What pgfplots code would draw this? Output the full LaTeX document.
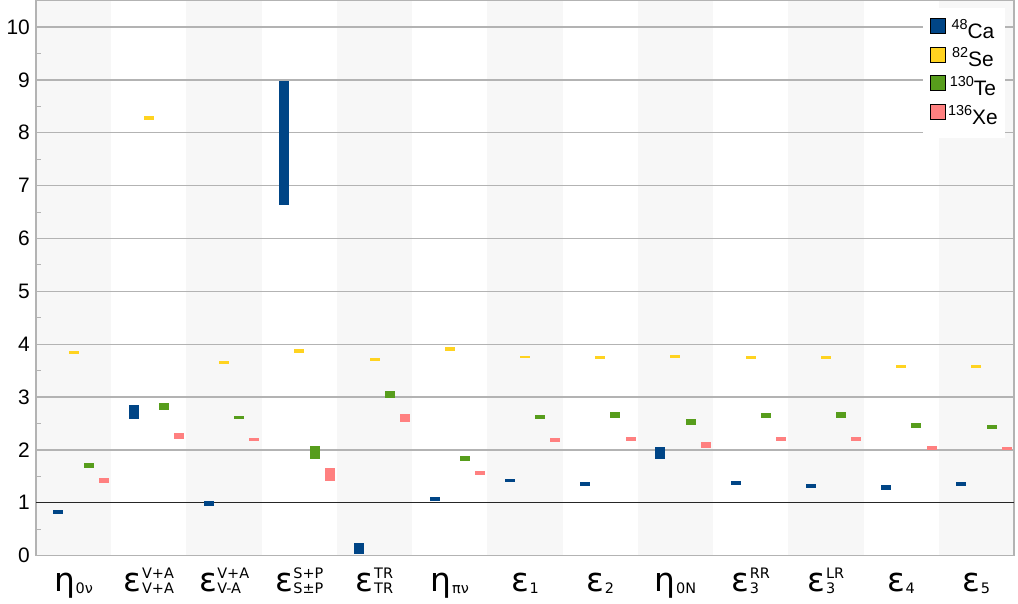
\documentclass[border=0pt]{standalone}
\usepackage{fontspec}
\setmainfont{Liberation Sans}
\newfontfamily\lblfont{DejaVu Sans}
\usepackage{pgfplots}
\pgfplotsset{compat=1.18}
\usepackage{pgfplotstable}

\definecolor{ca}{HTML}{004586}
\definecolor{se}{HTML}{FFD320}
\definecolor{te}{HTML}{579D1C}
\definecolor{xe}{HTML}{FF8080}
\definecolor{band}{HTML}{F7F7F7}
\definecolor{gridgray}{HTML}{B3B3B3}

% ranges (lo, hi) for each parameter, one table per isotope
\pgfplotstableread{
x lo hi
0 0.79 0.86
1 2.59 2.84
2 0.93 1.04
3 6.64 8.98
4 0.03 0.24
5 1.04 1.11
6 1.39 1.45
7 1.31 1.40
8 1.82 2.05
9 1.34 1.41
10 1.27 1.36
11 1.25 1.34
12 1.32 1.39
}\caTable
\pgfplotstableread{
x lo hi
0 3.81 3.87
1 8.25 8.32
2 3.62 3.68
3 3.83 3.91
4 3.68 3.73
5 3.87 3.94
6 3.73 3.78
7 3.72 3.78
8 3.73 3.80
9 3.72 3.78
10 3.71 3.78
11 3.54 3.61
12 3.55 3.61
}\seTable
\pgfplotstableread{
x lo hi
0 1.65 1.75
1 2.76 2.89
2 2.59 2.64
3 1.82 2.07
4 2.98 3.11
5 1.79 1.88
6 2.58 2.66
7 2.61 2.71
8 2.47 2.59
9 2.61 2.70
10 2.61 2.71
11 2.42 2.51
12 2.39 2.47
}\teTable
\pgfplotstableread{
x lo hi
0 1.38 1.47
1 2.20 2.31
2 2.17 2.23
3 1.41 1.65
4 2.52 2.67
5 1.52 1.60
6 2.15 2.23
7 2.17 2.25
8 2.04 2.15
9 2.17 2.25
10 2.16 2.24
11 2.00 2.08
12 1.99 2.06
}\xeTable

% symbol with a stacked superscript and subscript
\newcommand\scr{\fontsize{14.5}{15.5}\selectfont}
\newcommand\supsub[3]{#1\hspace{0.5bp}\raisebox{-2bp}{\scr\begin{tabular}[b]{@{}l@{}}#2\\#3\end{tabular}}}
\newcommand\sub[2]{#1\hspace{0.5bp}\raisebox{-2bp}{\scr #2}}
% isotope mass number
\newcommand\iso[2]{\raisebox{9bp}{\fontsize{14.5}{14.5}\selectfont #1}#2}

\pgfplotsset{
  range/.style={draw=none, mark=none, forget plot,
    error bars/.cd, y dir=both, y explicit, error mark=none,
    error bar style={draw=#1, line width=10bp, line cap=butt}},
}

\begin{document}
\begin{tikzpicture}
\begin{axis}[
  set layers,
  scale only axis,
  width=978bp, height=555bp,
  xmin=-0.5, xmax=12.5,
  ymin=0, ymax=10.5,
  axis line style={gridgray, line width=1.2bp},
  ytick={0,...,10},
  minor y tick num=1,
  ytick pos=left,
  xtick={0,...,12},
  xtick pos=bottom,
  major tick length=0pt,
  minor tick length=5bp,
  every minor tick/.style={gridgray, line width=1bp},
  ymajorgrids,
  grid style={gridgray, line width=1.3bp},
  /pgf/number format/assume math mode=true,
  yticklabel style={font=\fontsize{21}{21}\selectfont, inner sep=0pt, xshift=-6bp},
  xticklabel style={font=\lblfont\fontsize{33}{33}\selectfont, inner sep=0pt, text height=36bp, text depth=8bp, anchor=north},
  xticklabels={
    {\sub{η}{0ν}},
    {\supsub{ε}{V+A}{V+A}},
    {\supsub{ε}{V+A}{V-A}},
    {\supsub{ε}{S+P}{S±P}},
    {\supsub{ε}{TR}{TR}},
    {\sub{η}{πν}},
    {\sub{ε}{1}},
    {\sub{ε}{2}},
    {\sub{η}{0N}},
    {\supsub{ε}{RR}{3}},
    {\supsub{ε}{LR}{3}},
    {\sub{ε}{4}},
    {\sub{ε}{5}}
  },
  legend image code/.code={\draw[#1, draw=black, line width=0.6bp] (0bp,-0.5bp) rectangle (15bp,14.5bp);},
  legend style={at={(rel axis cs:0.9908,1)}, yshift=-7bp, anchor=north east, draw=none, fill=white,
    font=\fontsize{21}{21}\selectfont, row sep=4.5bp, column sep=3bp,
    inner xsep=7bp, inner ysep=10bp,
    nodes={inner sep=0pt, text height=15bp, text depth=4bp, font=\fontsize{21}{21}\selectfont}},
  legend cell align=center,
]
% alternating background bands
\begin{pgfonlayer}{axis background}
\pgfplotsinvokeforeach{0,2,...,12}{
  \fill[band] (axis cs:#1-0.5,0) rectangle (axis cs:#1+0.5,10.5);
}
\end{pgfonlayer}

% reference line at 1
\addplot[black!85, line width=1.5bp, forget plot] coordinates {(-0.5,1) (12.5,1)};

\addplot[range=ca] table[x expr=\thisrow{x}-0.202, y expr=(\thisrow{lo}+\thisrow{hi})/2, y error expr=(\thisrow{hi}-\thisrow{lo})/2]{\caTable};
\addplot[range=se] table[x expr=\thisrow{x}, y expr=(\thisrow{lo}+\thisrow{hi})/2, y error expr=(\thisrow{hi}-\thisrow{lo})/2]{\seTable};
\addplot[range=te] table[x expr=\thisrow{x}+0.202, y expr=(\thisrow{lo}+\thisrow{hi})/2, y error expr=(\thisrow{hi}-\thisrow{lo})/2]{\teTable};
\addplot[range=xe] table[x expr=\thisrow{x}+0.404, y expr=(\thisrow{lo}+\thisrow{hi})/2, y error expr=(\thisrow{hi}-\thisrow{lo})/2]{\xeTable};

\addlegendimage{fill=ca}\addlegendentry{\iso{48}{Ca}}
\addlegendimage{fill=se}\addlegendentry{\iso{82}{Se}}
\addlegendimage{fill=te}\addlegendentry{\iso{130}{Te}}
\addlegendimage{fill=xe}\addlegendentry{\iso{136}{Xe}}

\coordinate (sw) at (rel axis cs:0,0);
\coordinate (ne) at (rel axis cs:1,1);
\end{axis}
\path ([shift={(-36bp,-48bp)}]sw) rectangle ([shift={(4bp,0bp)}]ne);
\end{tikzpicture}
\end{document}
